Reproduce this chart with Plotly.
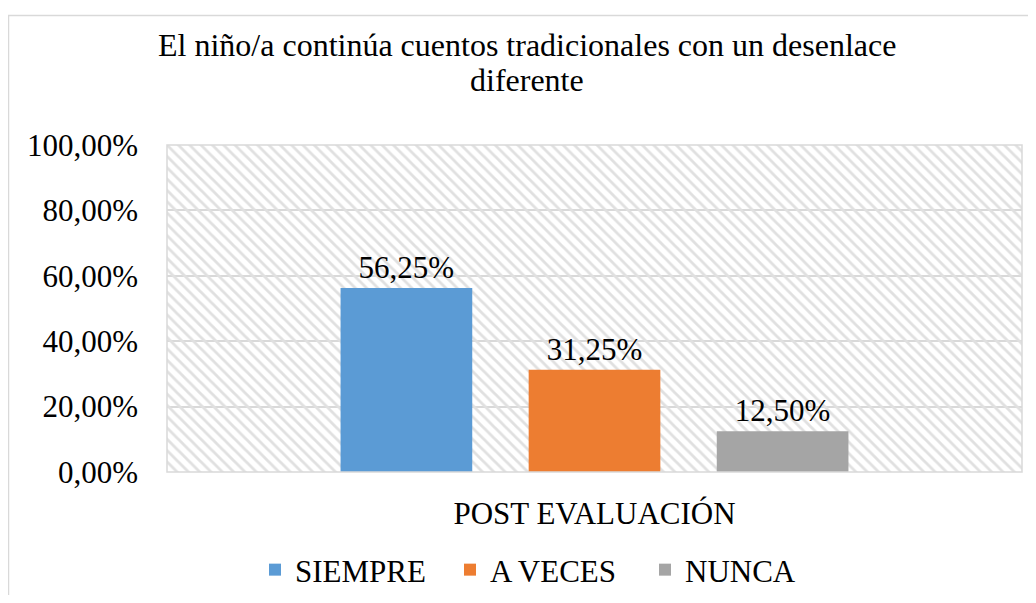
import plotly.graph_objects as go

categories = ["POST EVALUACIÓN"]
series_names = ["SIEMPRE", "A VECES", "NUNCA"]
series_values = [[0.5625], [0.3125], [0.125]]
series_colors = ["#5B9BD5", "#ED7D31", "#A5A5A5"]
y_ticks = [0, 0.2, 0.4, 0.6, 0.8, 1.0]
title_lines = ["El niño/a continúa cuentos tradicionales con un desenlace", "diferente"]

FONT = "Liberation Serif"
FS = 31
FS_T = 32
# page body has an 8px margin: figure starts at (8, 8) in the window
OFF = 8
W, H = 1036 - 2 * OFF, 603 - 2 * OFF
L, T = 167 - OFF, 145 - OFF
R = (1036 - OFF) - 1022
B = (603 - OFF) - 472

fig = go.Figure()

# hatched plot-area background (decoration on a hidden base axis)
fig.add_trace(go.Bar(
    x=[0.5], y=[1], width=[1], xaxis="x", yaxis="y",
    marker=dict(color="rgba(0,0,0,0)", line=dict(width=0),
                pattern=dict(shape="\\", fgcolor="#e0e0e0", bgcolor="rgba(0,0,0,0)",
                             size=8, solidity=0.35, fillmode="replace")),
    showlegend=False, hoverinfo="skip",
))

for name, vals, col in zip(series_names, series_values, series_colors):
    fig.add_trace(go.Bar(
        x=categories, y=vals, name=name, xaxis="x2", yaxis="y2",
        marker=dict(color=col, line=dict(width=0)),
        texttemplate="%{y:.2%}", textposition="outside",
        textfont=dict(family=FONT, size=FS, color="#000000"),
        cliponaxis=False,
    ))

def px_x(p):
    p -= OFF
    return (p - L) / (W - L - R)

def px_y(p):
    p -= OFF
    return (H - B - p) / (H - T - B)

def cont_y(p):
    return 1 - (p - OFF) / H

annotations = [dict(text=t, xref="paper", yref="paper",
                    x=px_x(527), y=px_y(yc), xanchor="center", yanchor="middle",
                    showarrow=False, font=dict(family=FONT, size=FS_T, color="#000000"))
               for t, yc in zip(title_lines, [45, 80])]

fig.update_layout(
    template="none",
    width=W, height=H,
    margin=dict(l=L, r=R, t=T, b=B, autoexpand=False),
    paper_bgcolor="white", plot_bgcolor="white",
    separators=",.",
    font=dict(family=FONT, size=FS, color="#000000"),
    barmode="group", bargap=0.34, bargroupgap=0.30,
    showlegend=True,
    legend=dict(orientation="h", x=px_x(255), xanchor="left",
                yref="container", y=cont_y(570), yanchor="middle",
                entrywidth=150, entrywidthmode="pixels",
                font=dict(family=FONT, size=FS, color="#000000"),
                traceorder="normal", bgcolor="rgba(0,0,0,0)", borderwidth=0),
    xaxis=dict(range=[0, 1], visible=False, fixedrange=True, automargin=False),
    yaxis=dict(range=[0, 1], visible=False, fixedrange=True, automargin=False),
    xaxis2=dict(overlaying="x", showgrid=False, showline=False, zeroline=False,
                ticks="", ticklabelstandoff=20, automargin=False,
                tickfont=dict(family=FONT, size=FS, color="#000000")),
    yaxis2=dict(overlaying="y", range=[0, 1], tickvals=y_ticks, tickformat=".2%",
                showgrid=True, gridcolor="#d9d9d9", gridwidth=1.5, automargin=False,
                zeroline=False, showline=False, ticks="", ticklabelstandoff=28,
                tickfont=dict(family=FONT, size=FS, color="#000000")),
    annotations=annotations,
    shapes=[
        dict(type="rect", xref="paper", yref="paper", x0=0, x1=1, y0=0, y1=1,
             line=dict(color="#d9d9d9", width=1.5), fillcolor="rgba(0,0,0,0)", layer="above"),
        dict(type="rect", xref="paper", yref="paper",
             x0=px_x(8.5), x1=px_x(1045), y0=px_y(615), y1=px_y(15.5),
             line=dict(color="#d9d9d9", width=1.5), fillcolor="rgba(0,0,0,0)", layer="below"),
    ],
)

fig.write_html("out.html")
